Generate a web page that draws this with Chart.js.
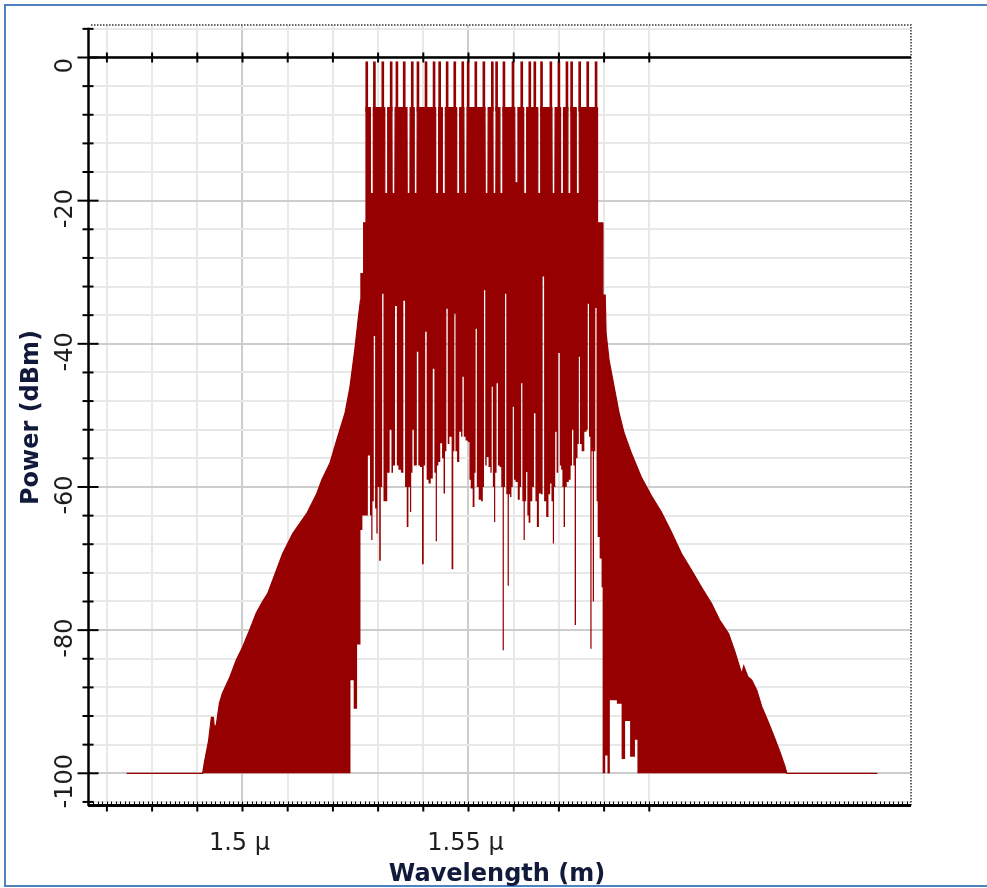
<!DOCTYPE html>
<html>
<head>
<meta charset="utf-8">
<script src="https://cdn.jsdelivr.net/npm/chart.js@4.4.1/dist/chart.umd.min.js"></script>
<style>
  html, body { margin: 0; padding: 0; background: #fff; }
  canvas { display: block; }
</style>
</head>
<body>
<canvas id="spectrum" width="987" height="888"></canvas>
<script>
// axis ranges: wavelength in micrometres, power in dBm
const xRange = [1.46604, 1.64790];
const yRange = [-104.57, 4.54];

const xGridWl = [1.47, 1.48, 1.49, 1.50, 1.51, 1.52, 1.53, 1.54, 1.55, 1.56, 1.57, 1.58, 1.59];
const xTickWl = [1.5, 1.55];
const xTickLabels = ['1.5 µ', '1.55 µ'];

const yGridDbm = [4, 0, -4, -8, -12, -16, -20, -24, -28, -32, -36, -40, -44, -48, -52, -56,
  -60, -64, -68, -72, -76, -80, -84, -88, -92, -96, -100, -104];
const yTickDbm = [0, -20, -40, -60, -80, -100];
const yTickLabels = ['0', '-20', '-40', '-60', '-80', '-100'];

// channel carriers (peak power) sitting on the FWM plateau
const plateauDbm = -7;
const carrierWl = [1.52749, 1.52918, 1.53104, 1.53289, 1.53416, 1.53578, 1.53756, 1.53882,
  1.54060, 1.54238, 1.54362, 1.54527, 1.54696, 1.54873, 1.54993, 1.55162, 1.55340, 1.55527,
  1.55622, 1.55784, 1.55984, 1.56178, 1.56356, 1.56467, 1.56616, 1.56822, 1.57000, 1.57178,
  1.57282, 1.57460, 1.57638, 1.57822];
const carrierDbm = [-0.6, -0.6, -0.6, -0.6, -0.6, -0.6, -0.6, -0.6, -0.6, -0.6, -0.6, -0.6,
  -0.6, -0.6, -0.6, -0.6, -0.6, -0.6, -0.6, -0.6, -0.6, -0.6, -0.6, -0.6, -0.6, -0.6, -0.6,
  -0.6, -0.6, -0.6, -0.6, -0.6];

// upper edge of the trace [wavelength, dBm]
const upperEnvelope = [
  [1.47438, -100], [1.49118, -100], [1.49156, -98.5], [1.49251, -95.4], [1.49311, -92.2],
  [1.49356, -92.2], [1.49378, -93.6], [1.49422, -93.2], [1.49489, -90.2], [1.49556, -88.8],
  [1.49711, -86.7], [1.49860, -84.2], [1.50000, -82.4], [1.50156, -80.0], [1.50304, -77.6],
  [1.50444, -76.0], [1.50556, -74.9], [1.50889, -69.3], [1.51111, -66.5], [1.51422, -63.7],
  [1.51644, -60.9], [1.51756, -59.0], [1.51933, -56.7], [1.52082, -53.5], [1.52267, -49.7],
  [1.52378, -46.0], [1.52489, -40.6], [1.52562, -36.4], [1.52610, -33.9], [1.52620, -30.2],
  [1.52670, -30.2], [1.52680, -23.1], [1.52722, -23.1], [1.52732, -7.0],
  [1.52824, -7.0], [1.52829, -19.0], [1.52889, -19.0], [1.52894, -7.0],
  [1.53143, -7.0], [1.53148, -19.0], [1.53208, -19.0], [1.53213, -7.0],
  [1.53306, -7.0], [1.53311, -19.0], [1.53371, -19.0], [1.53376, -7.0],
  [1.53639, -7.0], [1.53644, -19.0], [1.53704, -19.0], [1.53709, -7.0],
  [1.53795, -7.0], [1.53800, -19.0], [1.53860, -19.0], [1.53865, -7.0],
  [1.54269, -7.0], [1.54274, -19.0], [1.54334, -19.0], [1.54339, -7.0],
  [1.54417, -7.0], [1.54422, -19.0], [1.54482, -19.0], [1.54487, -7.0],
  [1.54735, -7.0], [1.54740, -19.0], [1.54800, -19.0], [1.54805, -7.0],
  [1.54898, -7.0], [1.54903, -19.0], [1.54963, -19.0], [1.54968, -7.0],
  [1.55365, -7.0], [1.55370, -19.0], [1.55430, -19.0], [1.55435, -7.0],
  [1.55540, -7.0], [1.55545, -19.0], [1.55605, -19.0], [1.55610, -7.0],
  [1.55691, -7.0], [1.55696, -19.0], [1.55756, -19.0], [1.55761, -7.0],
  [1.56024, -7.0], [1.56029, -17.5], [1.56089, -17.5], [1.56094, -7.0],
  [1.56217, -7.0], [1.56222, -19.0], [1.56282, -19.0], [1.56287, -7.0],
  [1.56528, -7.0], [1.56533, -19.0], [1.56593, -19.0], [1.56598, -7.0],
  [1.56846, -7.0], [1.56851, -19.0], [1.56911, -19.0], [1.56916, -7.0],
  [1.57032, -7.0], [1.57037, -19.0], [1.57097, -19.0], [1.57102, -7.0],
  [1.57195, -7.0], [1.57200, -19.0], [1.57260, -19.0], [1.57265, -7.0],
  [1.57380, -7.0], [1.57385, -19.0], [1.57445, -19.0], [1.57450, -7.0],
  [1.57845, -7.0], [1.57855, -23.1], [1.57965, -23.1], [1.57975, -33.2], [1.58025, -33.2],
  [1.58044, -38.5], [1.58111, -42.3], [1.58222, -46.0], [1.58333, -49.7], [1.58444, -52.5],
  [1.58600, -55.2], [1.58822, -58.6], [1.59044, -61.2], [1.59267, -63.5], [1.59489, -66.3],
  [1.59711, -69.3], [1.59933, -71.6], [1.60156, -74.0], [1.60378, -76.3], [1.60556, -78.6],
  [1.60756, -80.5], [1.60889, -82.9], [1.61044, -86.1], [1.61090, -85.0], [1.61180, -86.5],
  [1.61267, -87.0], [1.61378, -88.4], [1.61489, -90.7], [1.61644, -93.0], [1.61756, -94.8],
  [1.61889, -97.0], [1.62000, -99.0], [1.62044, -100], [1.64044, -100]
];

// lower edge of the trace [wavelength, dBm]
const lowerEnvelope = [
  [1.47438, -100], [1.52378, -100], [1.52400, -87], [1.52440, -87], [1.52480, -91],
  [1.52520, -91], [1.52550, -82], [1.52590, -82], [1.52630, -66], [1.52674, -64],
  [1.52740, -64], [1.52807, -55.6], [1.52835, -64], [1.52862, -67.4], [1.52890, -62],
  [1.52919, -38.9], [1.52948, -63], [1.52975, -66.5], [1.53005, -60], [1.53044, -70.3],
  [1.53075, -60], [1.53104, -33], [1.53135, -62], [1.53175, -62], [1.53230, -58],
  [1.53281, -52], [1.53310, -58], [1.53350, -57], [1.53400, -34.7], [1.53430, -57],
  [1.53470, -57.6], [1.53540, -58], [1.53578, -34], [1.53615, -60], [1.53652, -65.6],
  [1.53690, -60], [1.53720, -63.5], [1.53745, -58], [1.53775, -52], [1.53805, -57],
  [1.53840, -57], [1.53874, -41.1], [1.53905, -57], [1.53950, -57.2], [1.53993, -70.8],
  [1.54025, -57], [1.54059, -38.3], [1.54090, -59], [1.54140, -59.5], [1.54190, -58.8],
  [1.54230, -43.5], [1.54260, -58], [1.54289, -67.6], [1.54315, -57], [1.54350, -56.5],
  [1.54400, -53.9], [1.54430, -56], [1.54467, -60.9], [1.54495, -55], [1.54526, -35.1],
  [1.54555, -54], [1.54600, -53], [1.54652, -71.5], [1.54675, -55], [1.54700, -35.8],
  [1.54725, -55], [1.54770, -56.5], [1.54822, -52.3], [1.54851, -53], [1.54881, -44.6],
  [1.54910, -53], [1.54960, -53.5], [1.55007, -53.7], [1.55035, -59], [1.55065, -60.2],
  [1.55119, -62.8], [1.55145, -58], [1.55170, -37.9], [1.55200, -60], [1.55250, -61.8],
  [1.55304, -62], [1.55330, -60], [1.55356, -32.5], [1.55385, -57], [1.55420, -55.8],
  [1.55467, -57.2], [1.55500, -58], [1.55526, -46], [1.55552, -60], [1.55578, -64.9],
  [1.55605, -58], [1.55637, -45.5], [1.55665, -57], [1.55710, -57.2], [1.55740, -60],
  [1.55770, -82.8], [1.55795, -60], [1.55822, -33], [1.55850, -61], [1.55881, -73.8],
  [1.55905, -61], [1.55935, -61.4], [1.55965, -60], [1.55993, -48.8], [1.56020, -59],
  [1.56060, -59.3], [1.56119, -61.8], [1.56150, -60], [1.56178, -45.5], [1.56205, -62],
  [1.56232, -67.4], [1.56260, -62], [1.56289, -57.9], [1.56315, -64], [1.56345, -65],
  [1.56393, -62], [1.56430, -60], [1.56467, -49.7], [1.56495, -62], [1.56530, -65.6],
  [1.56585, -60.9], [1.56625, -61], [1.56655, -30.6], [1.56690, -62], [1.56748, -64.2],
  [1.56790, -61], [1.56822, -59.5], [1.56850, -62], [1.56881, -67.9], [1.56905, -60],
  [1.56933, -52.3], [1.56965, -58], [1.57007, -41.3], [1.57035, -57], [1.57065, -57.6],
  [1.57090, -60], [1.57119, -65.6], [1.57150, -60], [1.57195, -59.3], [1.57244, -59],
  [1.57275, -57], [1.57304, -52], [1.57335, -57], [1.57363, -79.3], [1.57395, -56],
  [1.57430, -54], [1.57452, -41.8], [1.57480, -54], [1.57526, -55], [1.57600, -52.3],
  [1.57625, -52], [1.57652, -34.4], [1.57680, -53], [1.57711, -82.6], [1.57735, -55],
  [1.57763, -76], [1.57790, -55], [1.57822, -35], [1.57845, -62], [1.57870, -67],
  [1.57933, -70], [1.57955, -74], [1.57980, -100], [1.58010, -100], [1.58040, -97.5],
  [1.58060, -97.5], [1.58090, -100], [1.58115, -100], [1.58140, -89.8], [1.58265, -89.8],
  [1.58300, -90.3], [1.58375, -90.3], [1.58400, -98], [1.58450, -98], [1.58480, -92.7],
  [1.58560, -92.7], [1.58590, -97.7], [1.58670, -97.7], [1.58695, -95.3], [1.58725, -95.3],
  [1.58750, -100], [1.64044, -100]
];

const traceRed = '#960000';
const labelFont = '24px "DejaVu Sans"';
const titleFont = 'bold 24px "DejaVu Sans"';

function isMajorWl(v) {
  return xTickWl.some(t => Math.abs(t - v) < 1e-9);
}

// axes, ticks, labels and frame in the style of the original plot window
const plotFrame = {
  id: 'plotFrame',
  beforeDraw(chart) {
    const ctx = chart.ctx;
    ctx.save();
    ctx.fillStyle = '#fff';
    ctx.fillRect(0, 0, chart.width, chart.height);
    ctx.strokeStyle = '#4f81bd';
    ctx.lineWidth = 2;
    ctx.strokeRect(5, 5, 1000, 881);
    ctx.restore();
  },
  afterDraw(chart) {
    const { ctx, chartArea: area, scales: { x, y } } = chart;
    const seg = (x1, y1, x2, y2) => {
      ctx.beginPath();
      ctx.moveTo(x1, y1);
      ctx.lineTo(x2, y2);
      ctx.stroke();
    };
    ctx.save();

    // dotted top and right border
    ctx.strokeStyle = '#333';
    ctx.lineWidth = 1.5;
    ctx.setLineDash([1.5, 1.5]);
    ctx.beginPath();
    ctx.moveTo(area.left + 2, area.top);
    ctx.lineTo(area.right, area.top);
    ctx.lineTo(area.right, area.bottom);
    ctx.stroke();
    ctx.setLineDash([]);

    ctx.strokeStyle = '#000';
    // 0 dBm reference line with its tick marks
    const y0 = y.getPixelForValue(0);
    ctx.lineWidth = 2.5;
    seg(area.left, y0, area.right, y0);
    ctx.lineWidth = 2;
    xGridWl.forEach(v => {
      const px = x.getPixelForValue(v);
      seg(px, y0 - 5, px, y0 + 5);
    });

    // left axis
    const axisX = area.left - 0.5;
    ctx.lineWidth = 2.5;
    seg(axisX, y.getPixelForValue(4) - 1, axisX, area.bottom);
    ctx.lineWidth = 2;
    yGridDbm.forEach(v => {
      const py = y.getPixelForValue(v);
      const major = yTickDbm.includes(v);
      seg(axisX - (major ? 11 : 6), py, axisX + (major ? 10 : 5), py);
    });

    // bottom axis
    const axisY = area.bottom - 0.5;
    ctx.lineWidth = 3;
    seg(area.left - 1, axisY, area.right, axisY);
    ctx.lineWidth = 1;
    for (let k = 1467; k <= 1647; k++) {
      const px = Math.round(x.getPixelForValue(k / 1000)) + 0.5;
      seg(px, axisY - 4, px, axisY);
    }
    ctx.lineWidth = 2;
    xGridWl.forEach(v => {
      const px = x.getPixelForValue(v);
      seg(px, axisY, px, axisY + 6);
    });

    // tick labels
    ctx.fillStyle = '#1e1e1e';
    ctx.font = labelFont;
    ctx.textAlign = 'center';
    ctx.textBaseline = 'alphabetic';
    xTickWl.forEach((v, i) => {
      ctx.fillText(xTickLabels[i], x.getPixelForValue(v) - 3, 850);
    });
    yTickDbm.forEach((v, i) => {
      ctx.save();
      ctx.translate(71.5, y.getPixelForValue(v) + 8);
      ctx.rotate(-Math.PI / 2);
      ctx.fillText(yTickLabels[i], 0, 0);
      ctx.restore();
    });

    // axis titles
    ctx.fillStyle = '#111a3a';
    ctx.font = titleFont;
    ctx.fillText('Wavelength (m)', 497, 881);
    ctx.translate(37.5, (area.top + area.bottom) / 2 + 2);
    ctx.rotate(-Math.PI / 2);
    ctx.fillText('Power (dBm)', 0, 0);

    ctx.restore();
  }
};

const ctx = document.getElementById('spectrum').getContext('2d');

const spectrumChart = new Chart(ctx, {
  type: 'line',
  data: {
    datasets: [
      {
        label: 'lower',
        data: lowerEnvelope.map(p => ({ x: p[0], y: p[1] })),
        stepped: 'middle',
        borderColor: 'rgba(0,0,0,0)',
        borderWidth: 1,
        pointRadius: 0,
        fill: false,
      },
      {
        label: 'upper',
        data: upperEnvelope.map(p => ({ x: p[0], y: p[1] })),
        borderColor: traceRed,
        backgroundColor: traceRed,
        borderWidth: 1.2,
        pointRadius: 0,
        tension: 0,
        fill: '-1',
      },
      {
        type: 'bar',
        label: 'carriers',
        data: carrierWl.map((wl, i) => ({ x: wl, y: [plateauDbm - 0.5, carrierDbm[i]] })),
        backgroundColor: traceRed,
        borderWidth: 0,
        barThickness: 2,
        grouped: false,
        order: -1,
      },
    ],
  },
  options: {
    responsive: false,
    animation: false,
    events: [],
    devicePixelRatio: 1,
    layout: { padding: { left: 0, top: 25, right: 76, bottom: 0 } },
    plugins: {
      legend: { display: false },
      tooltip: { enabled: false },
    },
    scales: {
      x: {
        type: 'linear',
        min: xRange[0],
        max: xRange[1],
        offset: false,
        afterBuildTicks: scale => {
          scale.ticks = xGridWl.map(v => ({ value: v }));
        },
        afterFit: scale => {
          scale.height = 82;
        },
        ticks: { display: false },
        grid: {
          offset: false,
          drawTicks: false,
          lineWidth: 2,
          color: c => (c.tick && isMajorWl(c.tick.value) ? '#cdcdcd' : '#e8e8e8'),
        },
        border: { display: false },
      },
      y: {
        type: 'linear',
        min: yRange[0],
        max: yRange[1],
        afterBuildTicks: scale => {
          scale.ticks = yGridDbm.map(v => ({ value: v }));
        },
        afterFit: scale => {
          scale.width = 89;
        },
        ticks: { display: false },
        grid: {
          offset: false,
          drawTicks: false,
          lineWidth: 2,
          color: c => (c.tick && c.tick.value % 20 === 0 ? '#cdcdcd' : '#e8e8e8'),
        },
        border: { display: false },
      },
    },
  },
  plugins: [plotFrame],
});
</script>
</body>
</html>
